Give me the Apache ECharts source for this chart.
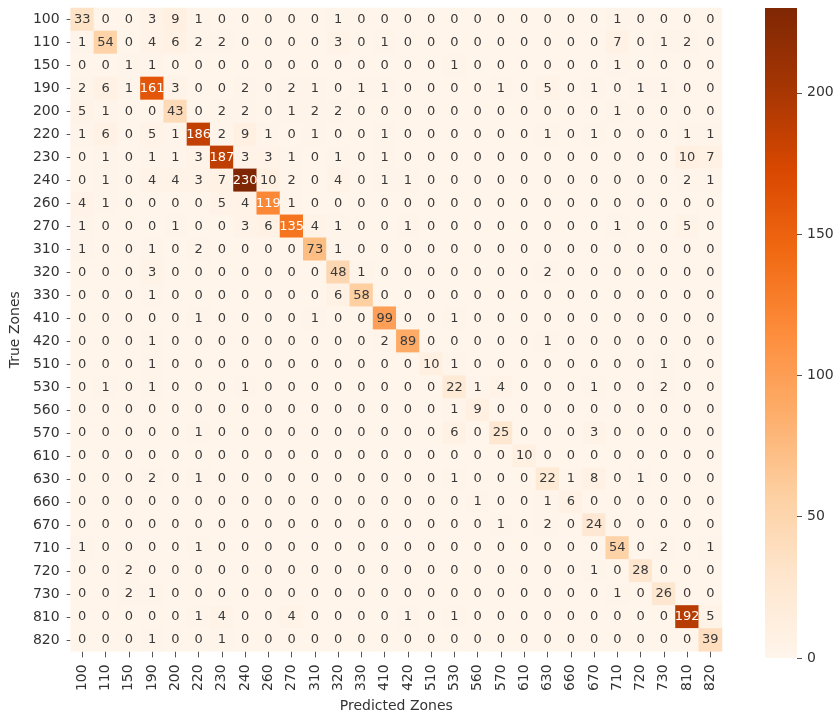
<!DOCTYPE html>
<html>
<head>
<meta charset="utf-8">
<script src="https://cdn.jsdelivr.net/npm/echarts@6/dist/echarts.min.js"></script>
<style>
  html, body { margin: 0; padding: 0; background: #ffffff; }
  #chart { width: 837px; height: 718px; }
</style>
</head>
<body>
<div id="chart"></div>
<script>
// Zone labels shared by both axes (predicted = columns, true = rows)
const zones = ['100','110','150','190','200','220','230','240','260','270','310','320','330','410',
               '420','510','530','560','570','610','630','660','670','710','720','730','810','820'];

// Confusion-matrix counts, one row per true zone
const row100 = [33,0,0,3,9,1,0,0,0,0,0,1,0,0,0,0,0,0,0,0,0,0,0,1,0,0,0,0];
const row110 = [1,54,0,4,6,2,2,0,0,0,0,3,0,1,0,0,0,0,0,0,0,0,0,7,0,1,2,0];
const row150 = [0,0,1,1,0,0,0,0,0,0,0,0,0,0,0,0,1,0,0,0,0,0,0,1,0,0,0,0];
const row190 = [2,6,1,161,3,0,0,2,0,2,1,0,1,1,0,0,0,0,1,0,5,0,1,0,1,1,0,0];
const row200 = [5,1,0,0,43,0,2,2,0,1,2,2,0,0,0,0,0,0,0,0,0,0,0,1,0,0,0,0];
const row220 = [1,6,0,5,1,186,2,9,1,0,1,0,0,1,0,0,0,0,0,0,1,0,1,0,0,0,1,1];
const row230 = [0,1,0,1,1,3,187,3,3,1,0,1,0,1,0,0,0,0,0,0,0,0,0,0,0,0,10,7];
const row240 = [0,1,0,4,4,3,7,230,10,2,0,4,0,1,1,0,0,0,0,0,0,0,0,0,0,0,2,1];
const row260 = [4,1,0,0,0,0,5,4,119,1,0,0,0,0,0,0,0,0,0,0,0,0,0,0,0,0,0,0];
const row270 = [1,0,0,0,1,0,0,3,6,135,4,1,0,0,1,0,0,0,0,0,0,0,0,1,0,0,5,0];
const row310 = [1,0,0,1,0,2,0,0,0,0,73,1,0,0,0,0,0,0,0,0,0,0,0,0,0,0,0,0];
const row320 = [0,0,0,3,0,0,0,0,0,0,0,48,1,0,0,0,0,0,0,0,2,0,0,0,0,0,0,0];
const row330 = [0,0,0,1,0,0,0,0,0,0,0,6,58,0,0,0,0,0,0,0,0,0,0,0,0,0,0,0];
const row410 = [0,0,0,0,0,1,0,0,0,0,1,0,0,99,0,0,1,0,0,0,0,0,0,0,0,0,0,0];
const row420 = [0,0,0,1,0,0,0,0,0,0,0,0,0,2,89,0,0,0,0,0,1,0,0,0,0,0,0,0];
const row510 = [0,0,0,1,0,0,0,0,0,0,0,0,0,0,0,10,1,0,0,0,0,0,0,0,0,1,0,0];
const row530 = [0,1,0,1,0,0,0,1,0,0,0,0,0,0,0,0,22,1,4,0,0,0,1,0,0,2,0,0];
const row560 = [0,0,0,0,0,0,0,0,0,0,0,0,0,0,0,0,1,9,0,0,0,0,0,0,0,0,0,0];
const row570 = [0,0,0,0,0,1,0,0,0,0,0,0,0,0,0,0,6,0,25,0,0,0,3,0,0,0,0,0];
const row610 = [0,0,0,0,0,0,0,0,0,0,0,0,0,0,0,0,0,0,0,10,0,0,0,0,0,0,0,0];
const row630 = [0,0,0,2,0,1,0,0,0,0,0,0,0,0,0,0,1,0,0,0,22,1,8,0,1,0,0,0];
const row660 = [0,0,0,0,0,0,0,0,0,0,0,0,0,0,0,0,0,1,0,0,1,6,0,0,0,0,0,0];
const row670 = [0,0,0,0,0,0,0,0,0,0,0,0,0,0,0,0,0,0,1,0,2,0,24,0,0,0,0,0];
const row710 = [1,0,0,0,0,1,0,0,0,0,0,0,0,0,0,0,0,0,0,0,0,0,0,54,0,2,0,1];
const row720 = [0,0,2,0,0,0,0,0,0,0,0,0,0,0,0,0,0,0,0,0,0,0,1,0,28,0,0,0];
const row730 = [0,0,2,1,0,0,0,0,0,0,0,0,0,0,0,0,0,0,0,0,0,0,0,1,0,26,0,0];
const row810 = [0,0,0,0,0,1,4,0,0,4,0,0,0,0,1,0,1,0,0,0,0,0,0,0,0,0,192,5];
const row820 = [0,0,0,1,0,0,1,0,0,0,0,0,0,0,0,0,0,0,0,0,0,0,0,0,0,0,0,39];

const matrix = [row100,row110,row150,row190,row200,row220,row230,row240,row260,row270,
                row310,row320,row330,row410,row420,row510,row530,row560,row570,row610,
                row630,row660,row670,row710,row720,row730,row810,row820];

// Colour bar scale
const scaleMin = 0;
const scaleMax = 230;
const barTicks = [0, 50, 100, 150, 200];

// "Oranges" sequential palette, light to dark
const oranges = ['#fff5eb','#fee6ce','#fdd0a2','#fdae6b','#fd8d3c','#f16913','#d94801','#a63603','#7f2704'];

function hexToRgb(h) {
  return [parseInt(h.slice(1,3),16), parseInt(h.slice(3,5),16), parseInt(h.slice(5,7),16)];
}
function mapColor(v) {
  const t = Math.max(0, Math.min(1, (v - scaleMin) / (scaleMax - scaleMin))) * (oranges.length - 1);
  const i = Math.min(Math.floor(t), oranges.length - 2);
  const f = t - i;
  const a = hexToRgb(oranges[i]), b = hexToRgb(oranges[i + 1]);
  return a.map((c, k) => c + (b[k] - c) * f);
}
function luminance(rgb) {
  const lin = rgb.map(c => {
    c = c / 255;
    return c <= 0.03928 ? c / 12.92 : Math.pow((c + 0.055) / 1.055, 2.4);
  });
  return 0.2126 * lin[0] + 0.7152 * lin[1] + 0.0722 * lin[2];
}

const cells = [];
matrix.forEach((row, r) => {
  row.forEach((v, c) => {
    const dark = luminance(mapColor(v)) <= 0.408;
    cells.push({ value: [c, r, v], label: { color: dark ? '#ffffff' : '#3a3a3a' } });
  });
});

const font = 'DejaVu Sans';
const chart = echarts.init(document.getElementById('chart'), null, { renderer: 'canvas' });

chart.setOption({
  backgroundColor: '#ffffff',
  animation: false,
  textStyle: { fontFamily: font },
  grid: [
    { left: 70, top: 8, width: 652, height: 650 },
    { left: 765, top: 8, width: 32, height: 650 }
  ],
  xAxis: [
    {
      type: 'category', gridIndex: 0, data: zones,
      name: 'Predicted Zones', nameLocation: 'middle', nameGap: 43,
      nameTextStyle: { fontFamily: font, fontSize: 14, color: '#333' },
      axisLine: { show: false },
      axisTick: { show: true, alignWithLabel: true, length: 6, lineStyle: { color: '#555' } },
      axisLabel: { rotate: 90, interval: 0, margin: 13, fontFamily: font, fontSize: 14, color: '#333' },
      splitLine: { show: false }
    },
    {
      type: 'category', gridIndex: 1, data: [''],
      show: false
    }
  ],
  yAxis: [
    {
      type: 'category', gridIndex: 0, data: zones, inverse: true,
      name: 'True Zones', nameLocation: 'middle', nameGap: 46, nameRotate: 90,
      nameTextStyle: { fontFamily: font, fontSize: 14, color: '#333' },
      axisLine: { show: false },
      axisTick: { show: true, alignWithLabel: true, length: 4, lineStyle: { color: '#555' } },
      axisLabel: { interval: 0, margin: 11, fontFamily: font, fontSize: 14, color: '#333' },
      splitLine: { show: false }
    },
    {
      type: 'value', gridIndex: 1, position: 'right',
      min: scaleMin, max: scaleMax, interval: 50,
      axisLine: { show: false },
      axisTick: { show: true, length: 5, customValues: barTicks, lineStyle: { color: '#555' } },
      axisLabel: {
        margin: 10, fontFamily: font, fontSize: 14, color: '#333',
        customValues: barTicks
      },
      splitLine: { show: false }
    }
  ],
  visualMap: {
    show: false, seriesIndex: 0,
    min: scaleMin, max: scaleMax,
    inRange: { color: oranges }
  },
  series: [
    {
      type: 'heatmap', xAxisIndex: 0, yAxisIndex: 0,
      data: cells,
      label: { show: true, fontFamily: font, fontSize: 13 },
      itemStyle: { borderWidth: 0 },
      emphasis: { disabled: true }
    },
    {
      // colour bar strip spanning the full scale
      type: 'bar', xAxisIndex: 1, yAxisIndex: 1,
      data: [scaleMax], barWidth: '100%', silent: true,
      itemStyle: {
        color: new echarts.graphic.LinearGradient(0, 1, 0, 0,
          oranges.map((c, i) => ({ offset: i / (oranges.length - 1), color: c })))
      }
    }
  ]
});
</script>
</body>
</html>
